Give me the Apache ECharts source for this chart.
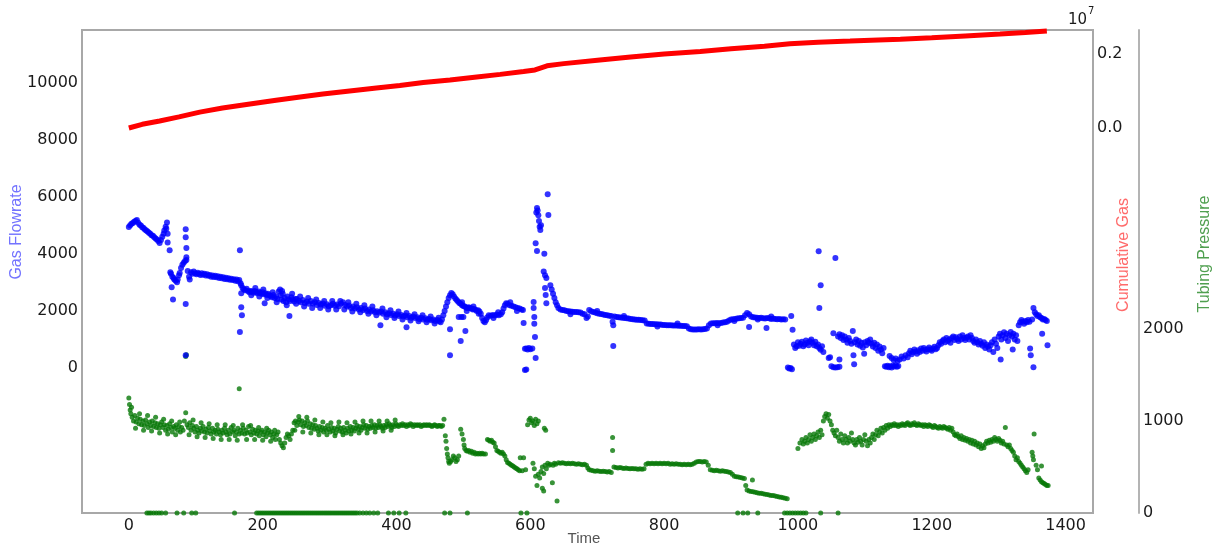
<!DOCTYPE html>
<html><head><meta charset="utf-8">
<script src="https://cdn.jsdelivr.net/npm/echarts@6/dist/echarts.min.js"></script>
<style>html,body{margin:0;padding:0;background:#fff}#c{width:1216px;height:552px}</style>
</head><body><div id="c"></div>
<script>
const timeTicks = [0,200,400,600,800,1000,1200,1400];
const flowTicks = [0,2000,4000,6000,8000,10000];
const cumTicks = [0,2000000];
const pressureTicks = [0,1000,2000];

const flowRate = [
[0,4940],[2,5000],[4,5050],[6,5080],[8,5120],[10,5150],[12,5180],[14,5090],[16,5020],[18,4990],[20,4930],[22,4900],[24,4850],[26,4820],[28,4780],[30,4740],[32,4700],[34,4650],[36,4630],[38,4580],[40,4540],[42,4500],[44,4450],[46,4380],[48,4480],[50,4600],[52,4700],[53,4820],[55,4950],[56,4880],[57,5100],[58,4700],[58,4400],[61,4120],
[62,3350],[63,3300],[64,2830],[65,3200],[66,2400],[67,3150],[68,3100],[70,3060],[72,3000],[73,3100],[75,3250],[76,3330],[78,3500],[80,3620],[82,3690],[84,3750],
[85,4860],[85,4580],[86,4200],[86,3880],[86,3780],[85,2240],[85,450],
[88,3400],[90,3200],[91,3100],[93,3350],[95,3300],[97,3380],[99,3320],[101,3280],[103,3340],[105,3300],[107,3260],[109,3320],[111,3270],[113,3300],[115,3240],[117,3280],[119,3230],[121,3260],[123,3200],[125,3240],[127,3190],[129,3230],[131,3180],[133,3210],[135,3150],[137,3200],[139,3140],[141,3180],[143,3120],[145,3160],[147,3110],[149,3140],[151,3090],[153,3130],[155,3080],[157,3110],[159,3060],[161,3100],[163,3040],[165,3080],
[166,4120],[166,1260],[167,2970],[168,2620],[168,2130],[169,1850],
[168,2900],[170,2800],[172,2750],[174,2720],[176,2780],[178,2700],[180,2650],[182,2700],[184,2680],[186,2640],[188,2700],[190,2660],[192,2620],[194,2680],[196,2640],[198,2600],[200,2650],[202,2580],[204,2620],[206,2560],[208,2600],[210,2550],[203,2270],
[212,2520],[214,2480],[216,2560],[218,2450],[220,2500],[222,2420],[224,2680],[226,2750],[227,2550],[228,2400],[230,2600],[231,2350],[233,2450],[235,2300],[237,2500],[239,2400],[241,2350],[243,2480],[245,2400],[247,2330],[249,2420],[240,1820],
[251,2420],[254,2350],[257,2300],[260,2380],[263,2280],[266,2330],[269,2250],[272,2350],[275,2260],[278,2300],[281,2210],[284,2280],[287,2220],[290,2260],[293,2180],[296,2230],[299,2160],[302,2200],[305,2250],[308,2180],[311,2220],[314,2160],[317,2260],[320,2300],[323,2210],[326,2150],[329,2190],[332,2100],[335,2150],[338,2080],[341,2130],[344,2050],[347,2100],[350,2030],[353,2080],[356,2000],[359,2050],[362,1980],[365,2020],[368,1950],[371,1990],[376,1500],
[374,1940],[377,1980],[380,1900],[383,1950],[386,1880],[389,1920],[392,1860],[395,1900],[398,1840],[401,1880],[404,1820],[407,1860],[410,1800],[413,1840],[416,1780],[419,1820],[422,1760],[425,1800],[428,1750],[431,1780],[434,1720],[437,1760],[440,1700],[443,1740],[446,1690],[449,1720],[452,1670],[455,1700],[458,1650],[461,1680],[464,1640],[415,1430],
[466,1600],[468,1700],[470,1850],[472,2000],[474,2150],[476,2300],[478,2450],[480,2550],[482,2630],[484,2580],[486,2500],[488,2430],[490,2380],[492,2330],[494,2280],[496,2250],[498,2200],[500,2170],[502,2150],[504,2120],[506,2100],[508,2130],[510,2100],[512,2080],[514,2050],[516,2070],[518,2040],[520,2000],[522,2020],[524,1980],[526,1900],[528,1750],[530,1650],[532,1600],[534,1680],[536,1780],[538,1850],[541,1830],[544,1860],[547,1840],[550,1870],[553,1850],[556,1880],[558,1950],[560,2080],[562,2200],[564,2270],[566,2250],[569,2200],[572,2180],[575,2150],[578,2130],[581,2100],[584,2080],[587,2050],[589,2030],
[480,1360],[480,450],[493,1790],[497,1790],[496,950],[503,1300],[500,1790],
[590,1580],[592,670],[594,680],[596,650],[598,700],[600,660],[592,-70],[594,-50],[605,2310],[605,2100],[606,1790],[606,1550],[607,1090],[608,350],[603,680],
[608,4370],[610,4100],[609,5450],[610,5600],[611,5520],[612,5350],[613,5150],[614,4950],[615,4830],[616,5000],[626,6090],[627,5360],[621,4000],[620,3380],[622,3250],[624,3150],[622,2800],[623,2560],[624,2270],[630,2900],[632,2750],[634,2600],[636,2450],[638,2300],[640,2200],[642,2100],
[645,2050],[648,2030],[651,2020],[654,2000],[657,1990],[660,1980],[663,1970],[666,1960],[669,1960],[672,1950],[675,1940],[678,1900],[681,1880],[684,1750],[686,1800],[688,2030],[691,1990],[694,1960],[697,1940],[700,1920],[703,1900],[706,1890],[709,1870],[712,1860],[715,1850],[718,1830],[721,1820],[723,1620],[724,1500],[724,770],[726,1800],[729,1790],[732,1780],[735,1770],[738,1760],[741,1750],[744,1740],[747,1730],[750,1720],[753,1710],[756,1700],[759,1690],[762,1690],[765,1680],[768,1670],[771,1660],[774,1560],[777,1550],[780,1540],[783,1540],[786,1530],[789,1530],[792,1520],[795,1520],[798,1510],[801,1510],[804,1500],[807,1500],[810,1500],[813,1490],[816,1490],[819,1490],[822,1480],[825,1480],[828,1470],[831,1470],[834,1460],[837,1380],[840,1360],[843,1350],[846,1350],[849,1350],[852,1360],[855,1350],[858,1360],[861,1370],[864,1380],[867,1500],[870,1560],[873,1570],[876,1570],[879,1580],[882,1570],[885,1580],[888,1590],[891,1600],[894,1620],[897,1660],[900,1700],[903,1710],[906,1720],[909,1730],[912,1740],[915,1750],[918,1760],[921,1850],[924,1930],[927,1880],[930,1800],[933,1780],[936,1770],[939,1760],[942,1750],[945,1760],[948,1740],[951,1730],[954,1750],[957,1740],[960,1720],[963,1730],[966,1720],[969,1710],[972,1720],[975,1700],[978,1710],[981,1700],[927,1440],[953,1400],
[985,20],[987,-20],[989,0],[991,-40],[990,1820],[992,1340],
[994,820],[996,700],[998,760],[1000,900],[1002,780],[1004,850],[1006,920],[1008,760],[1010,820],[1012,960],[1014,880],[1016,800],[1018,940],[1020,1000],[1022,880],[1024,800],[1026,920],[1028,760],[1030,820],[1032,700],[1034,640],[1036,760],[1038,560],
[1031,4090],[1034,2900],[1032,2100],[1056,3850],[1053,1220],
[1046,350],[1048,380],[1050,60],[1053,30],[1056,20],[1059,30],[1062,40],[1062,300],
[1060,1100],[1062,1180],[1064,1050],[1066,1150],[1068,980],[1070,1100],[1072,1000],[1074,880],[1076,1050],[1078,950],[1080,850],[1082,1300],[1083,450],[1084,130],[1085,900],[1087,1000],[1089,820],[1091,950],[1093,780],[1095,880],[1097,720],[1099,500],[1100,900],[1102,800],[1104,950],[1106,880],[1108,1000],[1110,850],[1112,750],[1114,880],[1116,700],[1118,820],[1120,600],[1122,750],[1124,650],[1126,520],[1128,700],
[1130,60],[1132,40],[1134,80],[1136,30],[1138,60],[1140,20],[1142,90],[1144,50],[1146,100],[1148,40],[1150,70],
[1137,420],[1140,350],[1143,280],[1146,330],[1149,250],[1152,300],[1155,400],[1158,330],[1161,450],[1164,380],[1166,520],[1168,600],[1170,480],[1172,560],[1174,650],[1176,580],[1178,500],[1180,620],[1182,560],[1184,680],[1186,600],[1188,700],[1190,640],[1192,580],[1194,660],[1196,720],[1198,650],[1200,600],[1202,680],[1204,740],[1206,660],[1208,700],[1210,800],[1212,900],[1214,850],[1216,950],[1218,1000],[1220,900],[1222,1050],[1224,950],[1226,1000],[1228,880],[1230,1050],[1232,1100],[1234,980],[1236,1080],[1238,1020],[1240,950],[1242,1100],[1244,1000],[1246,1150],[1248,1050],[1250,980],[1252,1060],[1254,1100],[1256,1000],[1258,1150],[1260,1050],[1262,950],[1264,880],[1266,1000],[1268,900],[1270,820],[1272,950],[1274,850],[1276,780],[1278,900],[1280,700],[1282,820],[1284,750],[1286,650],[1288,800],[1290,900],[1292,560],[1294,1000],[1296,850],[1298,700],
[1300,1100],[1302,1200],[1303,300],[1304,1000],[1306,1150],[1308,1250],[1310,1050],[1312,1200],[1314,950],[1316,1150],[1318,1260],[1320,1100],[1321,650],[1322,1200],[1324,1000],[1326,1150],[1328,950],
[1330,1500],[1332,1600],[1334,1680],[1336,1620],[1338,1550],[1340,1650],[1342,1600],[1344,1680],[1346,1620],[1347,680],[1348,450],[1350,1700],[1352,2100],[1352,30],[1354,1950],[1356,1880],[1358,1820],[1360,1850],[1362,1780],[1364,1750],[1365,1200],[1366,1700],[1368,1720],[1370,1680],[1372,1650],[1373,800]
];

const flowRateScatter = [
[183,2550],[189,2800],[195,2500],[201,2750],[207,2450],[215,2650],[221,2300],[229,2700],[236,2200],[244,2600],[250,2250],[256,2500],[262,2150],[268,2450],[274,2100],[280,2400],[286,2100],[292,2350],[298,2050],[304,2350],[310,2050],[316,2350],[322,2050],[328,2300],[334,1980],[340,2250],[346,1950],[352,2200],[358,1900],[364,2150],[370,1850],[379,2080],[385,1780],[391,2020],[397,1750],[403,1980],[409,1700],[415,1930],[421,1660],[427,1880],[433,1640],[439,1850],[445,1600],[451,1800],[457,1560],[463,1760],
[498,2300],[505,2000],[515,2150],[523,1900],[545,1750],[552,1950],[570,2300],[580,2000],[660,1880],[700,2000],[740,1820],[790,1450],[820,1560],[880,1500],[905,1650],[940,1700],[960,1800]
];

const cumulativeGas = [
[0,0],[20,100000],[46,190000],[75,300000],[106,430000],[140,540000],[181,650000],[220,750000],[256,840000],[290,920000],[330,1000000],[370,1080000],[405,1150000],[440,1230000],[480,1300000],[520,1380000],[555,1450000],[590,1530000],[607,1570000],[615,1620000],[625,1680000],[650,1740000],[704,1840000],[750,1920000],[800,2000000],[854,2070000],[900,2140000],[950,2210000],[988,2280000],[1030,2320000],[1078,2350000],[1120,2380000],[1153,2400000],[1200,2440000],[1250,2490000],[1302,2540000],[1340,2580000],[1372,2620000]
];

const tubingPressure = [
[0,1250],[1,1180],[2,1120],[3,1080],[5,1040],[7,1000],[9,1060],[11,990],[13,1030],[15,970],[17,1020],[19,960],[21,1000],[23,950],[25,1010],[27,970],[29,930],[31,990],[33,950],[35,1000],[37,940],[39,980],[41,930],[43,970],[45,920],[47,960],[49,990],[51,930],[53,960],[55,900],[57,950],[59,910],[61,970],[63,930],[65,880],[67,940],[69,920],[71,960],[73,900],[75,940],[77,880],[79,930],[81,900],[83,1000],[85,1090],[87,960],[89,930],[91,980],[93,900],[95,950],[97,920],[99,880],[101,940],[103,900],[105,870],[107,920],[109,890],[111,940],[113,880],[115,910],[117,870],[119,930],[121,890],[123,860],[125,920],[127,880],[129,900],[131,860],[133,910],[135,880],[137,850],[139,900],[141,870],[143,920],[145,880],[147,850],[149,900],[151,860],[153,930],[155,880],[157,900],[159,840],[161,880],[163,920],[165,860],
[85,1700],[86,1720],[165,1350],
[167,900],[169,870],[171,920],[173,860],[175,900],[177,870],[179,940],[181,880],[183,850],[185,910],[187,870],[189,900],[191,860],[193,890],[195,840],[197,880],[199,900],[201,850],[203,880],[205,830],[207,870],[209,900],[211,850],[213,880],[215,820],[217,860],[219,800],[221,850],[223,880],[225,800],[227,760],[229,730],[231,710],[233,760],[235,820],[237,860],[239,840],[241,800],[243,860],[245,900],
[247,980],[249,1000],[251,950],[253,990],[255,1010],[257,960],[259,1000],[261,940],[263,980],[265,950],[267,1000],[269,930],[271,970],[273,920],[275,960],[277,910],[279,950],[281,920],[283,890],[285,940],[287,900],[289,930],[291,880],[293,920],[295,900],[297,950],[299,910],[301,880],[303,930],[305,890],[307,920],[309,870],[311,910],[313,940],[315,890],[317,920],[319,880],[321,930],[323,900],[325,870],[327,920],[329,890],[331,940],[333,900],[335,930],[337,890],[339,920],[341,950],[343,910],[345,940],[347,900],[349,930],[351,960],[353,920],[355,950],[357,910],[359,940],[361,920],[363,950],[365,930],[367,960],[369,920],[371,950],[373,930],[375,960],[377,940],[379,920],[381,950],[383,930],[385,960],[387,940],[389,970],[391,950],[393,930],[395,960],[397,940],[399,970],[401,950],[403,940],[405,960],[407,950],[409,970],[411,950],[413,960],[415,940],[417,960],[419,950],[421,970],[423,960],[425,940],[427,960],[429,950],[431,960],[433,950],[435,960],[437,940],[439,950],[441,960],[443,950],[445,960],[447,950],[449,960],[451,950],[453,940],[455,950],[457,960],[459,950],[461,940],[463,950],[465,950],[467,940],[469,950],
[471,1020],[473,840],[474,780],[475,700],[476,640],[477,600],[478,560],[479,540],[481,560],[483,580],[485,620],[487,600],[489,560],[491,580],[493,620],
[496,910],[498,860],[500,800],[501,740],[502,700],[504,680],[506,670],[508,680],[510,660],[512,670],[514,650],[516,660],[518,640],[520,650],[522,640],[524,650],[526,640],[528,650],[530,640],[533,640],
[536,800],[538,790],[540,780],[542,790],[544,770],[546,760],[548,720],[550,680],[552,670],[554,660],[556,650],[558,660],[560,640],[562,620],[564,580],[566,550],[568,540],[570,530],[572,520],[574,510],[576,500],[578,490],[580,480],[582,470],[584,460],[585,600],[588,460],[590,600],[593,470],
[596,960],[598,1010],[600,1030],[602,980],[604,1000],[606,950],[608,1020],[610,970],[612,1000],[621,920],[623,900],
[604,540],[606,480],[608,400],[610,300],[612,420],[614,380],[618,270],[620,240],[616,450],[618,500],[620,430],[622,520],[624,480],[626,540],[628,520],[630,530],[633,330],[634,520],[636,540],[638,530],[640,130],
[642,545],[645,540],[648,545],[651,540],[654,535],[657,540],[660,535],[663,540],[666,535],[669,530],[672,535],[675,530],[678,525],[681,530],[684,520],[686,490],
[688,470],[691,465],[694,460],[697,455],[700,460],[703,455],[706,450],[709,455],[712,450],[715,445],[718,450],[721,440],[723,820],[723,680],[725,500],[728,495],[731,490],[734,495],[737,490],[740,485],[743,490],[746,485],[749,480],[752,485],[755,480],[758,480],[761,475],[764,480],[767,475],[770,480],[773,530],[776,540],[779,535],[782,540],[785,535],[788,540],[791,535],[794,540],[797,535],[800,540],[803,535],[806,540],[809,530],[812,535],[815,530],[818,535],[821,530],[824,530],[827,525],[830,530],[833,525],[836,530],[839,525],[842,530],[845,540],[848,555],[851,560],[854,560],[857,555],[860,560],[863,555],[866,520],[869,470],[872,465],[875,460],[878,465],[881,460],[884,455],[887,460],[890,455],[893,450],[896,445],[899,440],[902,420],[905,400],[908,395],[911,390],[914,385],[917,380],[920,375],[922,300],[924,250],[927,240],[930,235],[932,360],[933,230],[936,225],[939,220],[942,215],[945,215],[948,210],[951,205],[954,200],[957,195],[960,190],[963,190],[966,185],[969,180],[972,175],[975,170],[978,165],[981,160],[984,155],
[1000,700],[1003,760],[1006,800],[1008,750],[1010,780],[1012,820],[1014,760],[1016,800],[1018,850],[1020,780],[1022,820],[1024,860],[1026,800],[1028,840],[1030,880],[1032,820],[1034,900],[1036,850],[1038,1000],[1040,1050],[1042,1080],[1044,1030],[1046,1070],[1048,1000],[1050,960],[1052,900],[1054,870],[1056,840],[1058,900],[1060,820],[1062,780],[1064,860],[1066,800],[1068,760],[1070,840],[1072,800],[1074,760],[1076,820],[1078,780],[1080,870],[1082,800],[1084,760],[1086,740],[1088,800],[1090,770],[1092,820],[1094,780],[1096,740],[1098,800],[1100,850],[1102,780],[1104,730],[1106,800],[1108,760],[1110,820],[1112,860],[1114,800],[1116,850],[1118,900],[1120,840],[1122,880],[1124,920],[1126,870],[1128,930],[1130,900],[1132,950],[1134,920],[1136,960],[1138,940],[1140,960],[1142,950],[1144,970],[1146,950],[1148,960],[1150,940],[1152,960],[1154,950],[1156,970],[1158,960],[1160,950],[1162,970],[1164,980],[1166,960],[1168,950],[1170,970],[1172,960],[1174,980],[1176,960],[1178,950],[1180,970],[1182,960],[1184,950],[1186,960],[1188,940],[1190,960],[1192,950],[1194,940],[1196,960],[1198,950],[1200,940],[1202,930],[1204,950],[1206,940],[1208,930],[1210,920],[1212,940],[1214,930],[1216,920],[1218,940],[1220,930],[1222,920],[1224,910],[1226,930],[1228,900],[1230,920],[1232,880],[1234,850],[1236,840],[1238,860],[1240,830],[1242,810],[1244,840],[1246,800],[1248,820],[1250,790],[1252,810],[1254,780],[1256,800],[1258,760],[1260,790],[1262,750],[1264,780],[1266,740],[1268,760],[1270,720],[1272,750],[1274,700],[1276,730],[1278,710],[1280,750],[1282,780],[1284,760],[1286,790],[1288,770],[1290,800],[1292,780],[1294,820],[1296,800],[1298,780],[1300,810],[1302,790],[1304,760],[1306,780],[1308,750],[1310,930],[1312,740],[1314,720],[1316,740],[1318,700],[1320,680],[1322,660],[1324,620],[1326,580],[1328,600],[1330,560],[1332,540],[1334,520],[1336,500],[1338,480],[1340,460],[1342,440],[1344,470],[1350,660],[1351,620],[1352,580],[1353,860],[1356,520],[1358,470],[1364,510],[1360,380],[1362,360],[1364,340],[1366,330],[1368,320],[1370,310],[1372,300],[1374,300]
];

const tubingScatter = [
[4,1150],[10,920],[16,1080],[22,900],[28,1060],[34,890],[40,1040],[46,870],[52,1020],[58,860],[64,1000],[70,850],[76,990],[90,850],[96,1010],[102,830],[108,980],[114,820],[120,970],[126,810],[132,960],[138,800],[144,960],[150,800],[156,950],[162,790],[170,960],[176,800],[182,950],[188,800],[194,930],[200,790],[206,920],[212,780],[218,900],[248,900],[254,1050],[260,880],[266,1040],[272,870],[278,1010],[284,850],[290,990],[296,850],[302,980],[308,840],[314,990],[320,850],[326,980],[332,860],[338,990],[344,870],[350,1000],[356,870],[362,1000],[368,880],[374,1000],[380,890],[386,1000],[392,900],[398,1010]
];

const tubingZeroTimes = [27,30,33,37,41,45,49,55,72,82,94,100,158,191,194,197,200,203,206,209,212,215,218,221,224,227,230,233,236,239,242,245,248,251,254,257,260,263,266,269,272,275,278,281,284,287,290,293,296,299,302,305,308,311,314,317,320,323,326,329,332,335,338,341,345,350,355,360,366,372,388,396,404,414,472,480,506,586,595,910,918,925,940,980,984,988,992,996,1000,1004,1008,1012,1034,1060];

const chart = echarts.init(document.getElementById('c'), null, {renderer:'canvas'});
const labelFont = {fontFamily:'DejaVu Sans', fontSize:16, color:'#1a1a1a'};
const plain = v => String(v);
const textStyle = (t, fill, font, align) => ({text:t, fill:fill, font:font, align:align, verticalAlign:'middle', textAlign:align, textVerticalAlign:'middle'});
chart.setOption({
  animation:false,
  backgroundColor:'#ffffff',
  grid:{left:82, right:123, top:30, bottom:39, show:true, borderColor:'#a8a8a8', borderWidth:2, backgroundColor:'transparent', containLabel:false},
  xAxis:{type:'value', min:-70, max:1441, axisLine:{show:false}, axisTick:{show:false}, splitLine:{show:false},
    axisLabel:Object.assign({customValues:timeTicks, margin:5, formatter:plain}, labelFont)},
  yAxis:[
    {type:'value', position:'left', min:-5079, max:11839, axisLine:{show:false}, axisTick:{show:false}, splitLine:{show:false},
      axisLabel:Object.assign({customValues:flowTicks, margin:4, formatter:plain}, labelFont)},
    {type:'value', position:'right', offset:0, min:-10405000, max:2649000, axisLine:{show:false}, axisTick:{show:false}, splitLine:{show:false},
      axisLabel:Object.assign({customValues:cumTicks, margin:4, formatter:v => (v/1e7).toFixed(1)}, labelFont)},
    {type:'value', position:'right', offset:46, min:0, max:5250, axisLine:{show:true, lineStyle:{color:'#b4b4b4', width:2}}, axisTick:{show:false}, splitLine:{show:false},
      axisLabel:Object.assign({customValues:pressureTicks, margin:4, formatter:plain}, labelFont)}
  ],
  graphic:[
    {type:'text', x:17, y:232, rotation:Math.PI/2, style:textStyle('Gas Flowrate', '#7373ff', '16px "Liberation Sans"', 'center')},
    {type:'text', x:1124, y:255, rotation:Math.PI/2, style:textStyle('Cumulative Gas', '#ff6b6b', '16px "Liberation Sans"', 'center')},
    {type:'text', x:1205, y:254, rotation:Math.PI/2, style:textStyle('Tubing Pressure', '#4f9f4f', '16px "Liberation Sans"', 'center')},
    {type:'text', x:584, y:539, style:textStyle('Time', '#555555', '15px "Liberation Sans"', 'center')},
    {type:'text', x:1087, y:20, style:textStyle('10', '#1a1a1a', '15px "DejaVu Sans"', 'right')},
    {type:'text', x:1088, y:11, style:textStyle('7', '#1a1a1a', '10px "DejaVu Sans"', 'left')}
  ],
  series:[
    {name:'Cumulative Gas', type:'line', yAxisIndex:1, data:cumulativeGas, showSymbol:false, symbol:'none', lineStyle:{color:'#ff0000', width:5}, itemStyle:{color:'#ff0000'}, z:3},
    {name:'Tubing Pressure', type:'scatter', yAxisIndex:2, symbolSize:5, itemStyle:{color:'#087808'},
      data:tubingPressure.concat(tubingScatter, tubingZeroTimes.map(t => [t, 0])), z:2},
    {name:'Gas Flowrate', type:'scatter', yAxisIndex:0, symbolSize:6, itemStyle:{color:'#0000ff'}, data:flowRate.concat(flowRateScatter), z:4}
  ]
});
</script></body></html>
